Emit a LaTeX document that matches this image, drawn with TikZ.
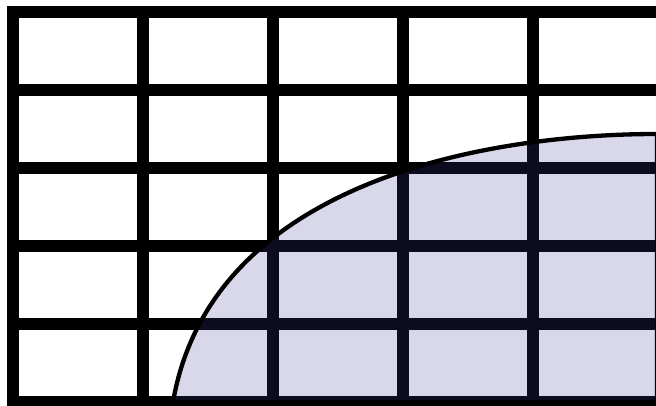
\documentclass[tikz,border=0pt]{standalone}
\definecolor{regfill}{RGB}{60,60,150}
\begin{document}
\begin{tikzpicture}[x=1pt,y=-1pt,
  gridline/.style={line width=12pt, draw=black},
  region/.style={fill=regfill, fill opacity=0.2, draw=black, draw opacity=1, line width=4.3pt}]
\useasboundingbox (0,0) rectangle (656,405);
\clip (0,0) rectangle (656,405);
\fill[white] (0,0) rectangle (656,405);
\foreach \x in {13,143,273,403,533,663} \draw[gridline] (\x,6) -- (\x,408);
\foreach \y in {12,90,168,246,324,402} \draw[gridline] (7,\y) -- (669,\y);
\path[region] (173,402) .. controls (211,182) and (485,134) .. (657,134) -- (657,402) -- cycle;
\end{tikzpicture}
\end{document}
